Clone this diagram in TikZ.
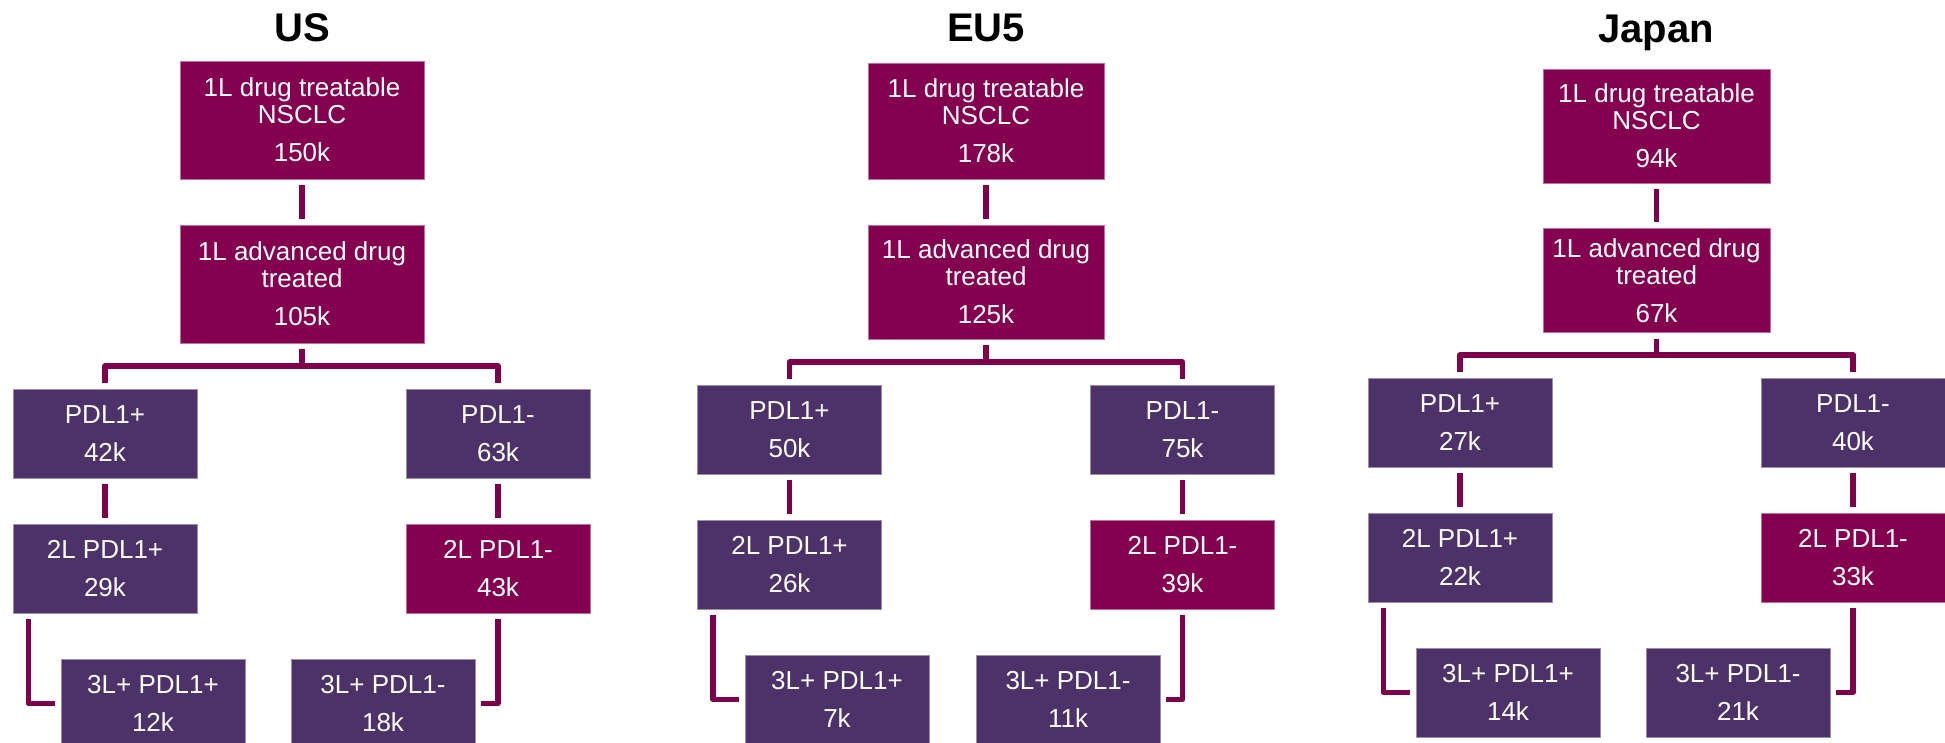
\documentclass[tikz,border=0pt]{standalone}
\usepackage{fontspec}
\setmainfont{Liberation Sans}
\usepackage{tikz}
\definecolor{plum}{HTML}{84004F}
\definecolor{grape}{HTML}{4D3169}
\definecolor{wire}{HTML}{7D004A}
\tikzset{
	region title/.style={
		font=\bfseries\fontsize{40}{40}\selectfont,
		anchor=base
	},
	cohort/.style={
		fill=#1,
		draw=#1!55!white,
		line width=.8pt,
		text=white,
		align=center,
		inner sep=0pt,
		font=\fontsize{26}{27}\selectfont,
		minimum width=184pt,
		minimum height=89pt
	},
	cohort/.default=grape,
	link/.style={
		draw=wire,
		line width=5.5pt,
		line join=round
	}
}
\begin{document}
\begin{tikzpicture}[x=1pt,y=-1pt]
	\useasboundingbox (0,0) rectangle (1945,743);
	%%%%%%%% US
	\node[region title] (us-title) at (302,42) {US};
	\node[cohort=plum, minimum width=244pt, minimum height=118pt] (us-top) at (302,120) {1L drug treatable\\NSCLC\\[11pt]150k};
	\node[cohort=plum, minimum width=244pt, minimum height=118pt] (us-adv) at (302,284) {1L advanced drug\\treated\\[11pt]105k};
	\coordinate (us-bar) at (302,366);
	\node[cohort] (us-pos) at (105,433.5) {PDL1+\\[11pt]42k};
	\node[cohort] (us-neg) at (498,433.5) {PDL1-\\[11pt]63k};
	\node[cohort] (us-pos2) at (105,568.5) {2L PDL1+\\[11pt]29k};
	\node[cohort=plum] (us-neg2) at (498,568.5) {2L PDL1-\\[11pt]43k};
	\node[cohort] (us-pos3) at (153,703.5) {3L+ PDL1+\\[11pt]12k};
	\node[cohort] (us-neg3) at (383,703.5) {3L+ PDL1-\\[11pt]18k};
	\draw[link] ([yshift=-6pt]us-top.south) -- ([yshift=6pt]us-adv.north);
	\draw[link] ([yshift=-6pt]us-adv.south) -- (us-bar);
	\draw[link] ([yshift=6pt]us-pos.north) |- (us-bar) -| ([yshift=6pt]us-neg.north);
	\draw[link] ([yshift=-6pt]us-pos.south) -- ([yshift=6pt]us-pos2.north);
	\draw[link] ([yshift=-6pt]us-neg.south) -- ([yshift=6pt]us-neg2.north);
	\draw[link] ([xshift=16pt,yshift=-6pt]us-pos2.south west) |- ([xshift=-6pt]us-pos3.west);
	\draw[link] ([yshift=-6pt]us-neg2.south) |- ([xshift=6pt]us-neg3.east);
	%%%%%%%% EU5
	\node[region title] (eu-title) at (986,42) {EU5};
	\node[cohort=plum, minimum width=236pt, minimum height=116pt] (eu-top) at (986,121) {1L drug treatable\\NSCLC\\[11pt]178k};
	\node[cohort=plum, minimum width=236pt, minimum height=114pt] (eu-adv) at (986,282) {1L advanced drug\\treated\\[11pt]125k};
	\coordinate (eu-bar) at (986,362);
	\node[cohort] (eu-pos) at (789.5,429.5) {PDL1+\\[11pt]50k};
	\node[cohort] (eu-neg) at (1182.5,429.5) {PDL1-\\[11pt]75k};
	\node[cohort] (eu-pos2) at (789.5,564.5) {2L PDL1+\\[11pt]26k};
	\node[cohort=plum] (eu-neg2) at (1182.5,564.5) {2L PDL1-\\[11pt]39k};
	\node[cohort] (eu-pos3) at (837,699.5) {3L+ PDL1+\\[11pt]7k};
	\node[cohort] (eu-neg3) at (1068,699.5) {3L+ PDL1-\\[11pt]11k};
	\draw[link] ([yshift=-6pt]eu-top.south) -- ([yshift=6pt]eu-adv.north);
	\draw[link] ([yshift=-6pt]eu-adv.south) -- (eu-bar);
	\draw[link] ([yshift=6pt]eu-pos.north) |- (eu-bar) -| ([yshift=6pt]eu-neg.north);
	\draw[link] ([yshift=-6pt]eu-pos.south) -- ([yshift=6pt]eu-pos2.north);
	\draw[link] ([yshift=-6pt]eu-neg.south) -- ([yshift=6pt]eu-neg2.north);
	\draw[link] ([xshift=16pt,yshift=-6pt]eu-pos2.south west) |- ([xshift=-6pt]eu-pos3.west);
	\draw[link] ([yshift=-6pt]eu-neg2.south) |- ([xshift=6pt]eu-neg3.east);
	%%%%%%%% Japan
	\node[region title] (jp-title) at (1656,43) {Japan};
	\node[cohort=plum, minimum width=227pt, minimum height=114pt] (jp-top) at (1656.5,126) {1L drug treatable\\NSCLC\\[11pt]94k};
	\node[cohort=plum, minimum width=227pt, minimum height=104pt] (jp-adv) at (1656.5,280.5) {1L advanced drug\\treated\\[11pt]67k};
	\coordinate (jp-bar) at (1656.5,355);
	\node[cohort] (jp-pos) at (1460,422.5) {PDL1+\\[11pt]27k};
	\node[cohort] (jp-neg) at (1853,422.5) {PDL1-\\[11pt]40k};
	\node[cohort] (jp-pos2) at (1460,557.5) {2L PDL1+\\[11pt]22k};
	\node[cohort=plum] (jp-neg2) at (1853,557.5) {2L PDL1-\\[11pt]33k};
	\node[cohort] (jp-pos3) at (1508,692.5) {3L+ PDL1+\\[11pt]14k};
	\node[cohort] (jp-neg3) at (1738,692.5) {3L+ PDL1-\\[11pt]21k};
	\draw[link] ([yshift=-6pt]jp-top.south) -- ([yshift=6pt]jp-adv.north);
	\draw[link] ([yshift=-6pt]jp-adv.south) -- (jp-bar);
	\draw[link] ([yshift=6pt]jp-pos.north) |- (jp-bar) -| ([yshift=6pt]jp-neg.north);
	\draw[link] ([yshift=-6pt]jp-pos.south) -- ([yshift=6pt]jp-pos2.north);
	\draw[link] ([yshift=-6pt]jp-neg.south) -- ([yshift=6pt]jp-neg2.north);
	\draw[link] ([xshift=16pt,yshift=-6pt]jp-pos2.south west) |- ([xshift=-6pt]jp-pos3.west);
	\draw[link] ([yshift=-6pt]jp-neg2.south) |- ([xshift=6pt]jp-neg3.east);
\end{tikzpicture}
\end{document}
